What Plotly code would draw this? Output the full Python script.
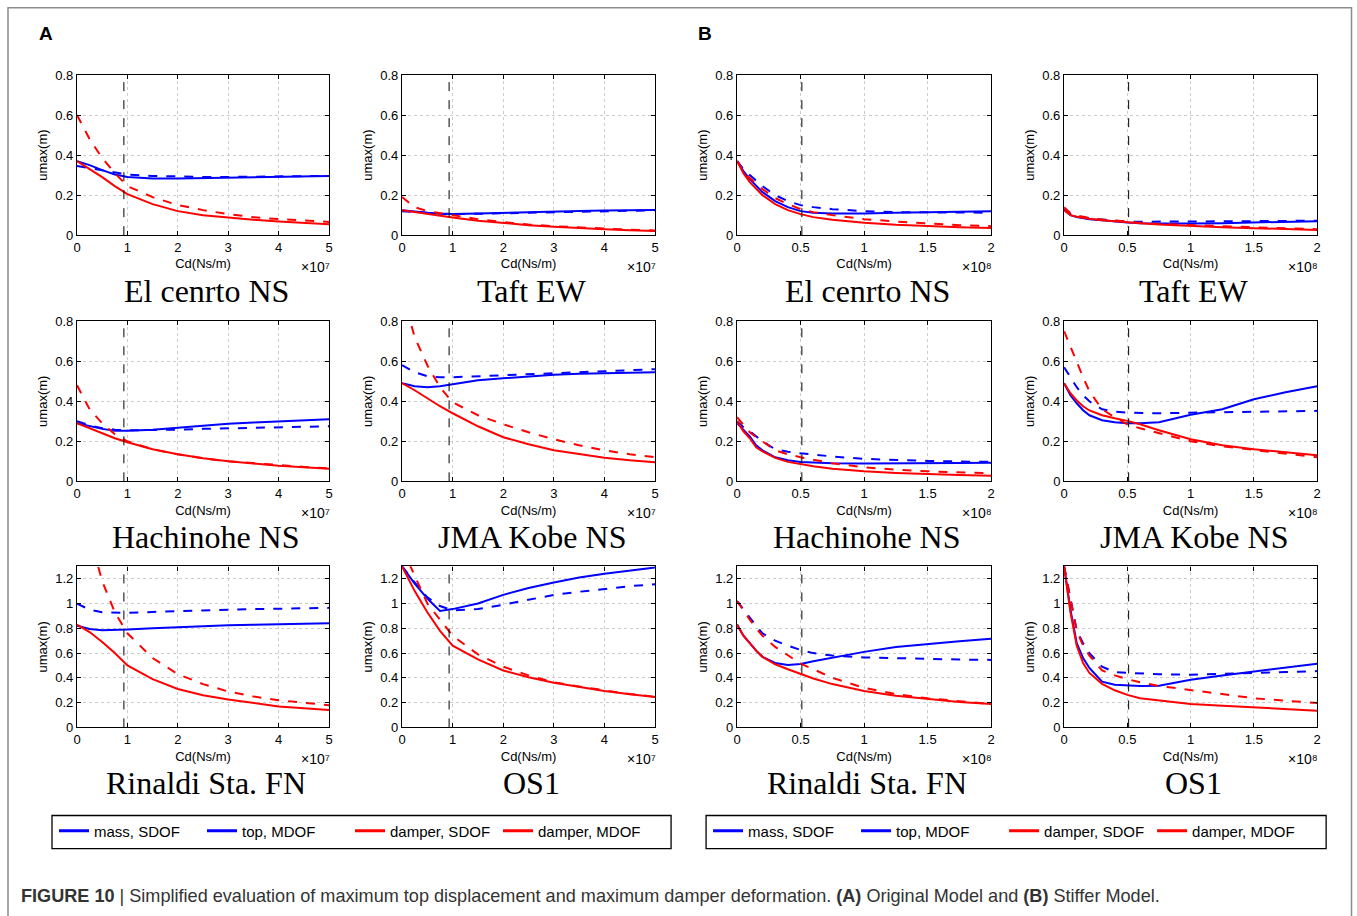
import plotly.graph_objects as go

W, H = 1357, 916

# ---------------- data ----------------
# Cd grids (A: x10^7 Ns/m, B: x10^8 Ns/m)
xa = [0, 0.25, 0.5, 0.75, 1, 1.5, 2, 2.5, 3, 3.5, 4, 4.5, 5]
xb = [0, 0.05, 0.1, 0.15, 0.2, 0.3, 0.4, 0.5, 0.6, 0.75, 1, 1.25, 1.5, 1.75, 2]

cd_opt_a = 0.93
cd_opt_b = 0.51

titles = ["El cenrto NS", "Taft EW", "Hachinohe NS", "JMA Kobe NS", "Rinaldi Sta. FN", "OS1"]
series_names = ["mass, SDOF", "top, MDOF", "damper, SDOF", "damper, MDOF"]
series_colors = ["#0000ff", "#0000ff", "#ff0000", "#ff0000"]
series_dash = ["dash", "solid", "dash", "solid"]

# ---- panel A (original model) ----
a_elcentro_mass_sdof = [0.345, 0.335, 0.322, 0.312, 0.303, 0.296, 0.292, 0.291, 0.291, 0.292, 0.293, 0.294, 0.296]
a_elcentro_top_mdof = [0.37, 0.35, 0.325, 0.303, 0.29, 0.283, 0.283, 0.285, 0.287, 0.289, 0.291, 0.293, 0.295]
a_elcentro_damper_sdof = [0.60, 0.48, 0.385, 0.31, 0.245, 0.19, 0.15, 0.125, 0.105, 0.09, 0.08, 0.072, 0.066]
a_elcentro_damper_mdof = [0.37, 0.33, 0.29, 0.245, 0.205, 0.155, 0.12, 0.1, 0.088, 0.077, 0.068, 0.061, 0.055]

a_taft_mass_sdof = [0.12, 0.115, 0.11, 0.107, 0.105, 0.106, 0.109, 0.112, 0.115, 0.118, 0.12, 0.122, 0.124]
a_taft_top_mdof = [0.125, 0.118, 0.112, 0.108, 0.106, 0.108, 0.112, 0.116, 0.119, 0.121, 0.123, 0.125, 0.126]
a_taft_damper_sdof = [0.19, 0.14, 0.12, 0.11, 0.1, 0.08, 0.065, 0.053, 0.045, 0.038, 0.032, 0.027, 0.023]
a_taft_damper_mdof = [0.125, 0.115, 0.105, 0.095, 0.088, 0.072, 0.06, 0.05, 0.042, 0.035, 0.03, 0.025, 0.021]

a_hachinohe_mass_sdof = [0.30, 0.28, 0.265, 0.258, 0.255, 0.255, 0.258, 0.262, 0.265, 0.268, 0.27, 0.273, 0.275]
a_hachinohe_top_mdof = [0.29, 0.275, 0.262, 0.253, 0.252, 0.258, 0.268, 0.278, 0.287, 0.294, 0.3, 0.305, 0.31]
a_hachinohe_damper_sdof = [0.48, 0.36, 0.29, 0.235, 0.2, 0.16, 0.135, 0.115, 0.1, 0.09, 0.08, 0.072, 0.065]
a_hachinohe_damper_mdof = [0.29, 0.265, 0.24, 0.215, 0.195, 0.16, 0.135, 0.115, 0.1, 0.088, 0.078, 0.07, 0.063]

a_kobe_mass_sdof = [0.58, 0.545, 0.525, 0.52, 0.52, 0.525, 0.53, 0.535, 0.54, 0.545, 0.55, 0.555, 0.56]
a_kobe_top_mdof = [0.49, 0.475, 0.47, 0.475, 0.485, 0.505, 0.515, 0.525, 0.532, 0.537, 0.54, 0.543, 0.545]
a_kobe_damper_sdof = [0.95, 0.72, 0.58, 0.47, 0.395, 0.33, 0.285, 0.245, 0.21, 0.18, 0.155, 0.135, 0.12]
a_kobe_damper_mdof = [0.49, 0.455, 0.415, 0.375, 0.34, 0.275, 0.22, 0.185, 0.155, 0.135, 0.118, 0.105, 0.095]

a_rinaldi_mass_sdof = [1.0, 0.95, 0.93, 0.925, 0.925, 0.932, 0.94, 0.945, 0.95, 0.955, 0.96, 0.963, 0.965]
a_rinaldi_top_mdof = [0.82, 0.795, 0.785, 0.787, 0.79, 0.8, 0.81, 0.818, 0.825, 0.828, 0.832, 0.836, 0.84]
a_rinaldi_damper_sdof = [2.0, 1.55, 1.18, 0.93, 0.76, 0.56, 0.43, 0.35, 0.29, 0.25, 0.22, 0.2, 0.18]
a_rinaldi_damper_mdof = [0.83, 0.77, 0.69, 0.6, 0.5, 0.39, 0.31, 0.26, 0.225, 0.195, 0.17, 0.155, 0.14]

a_os1_mass_sdof = [1.3, 1.17, 1.05, 0.98, 0.945, 0.955, 0.99, 1.03, 1.07, 1.095, 1.12, 1.14, 1.155]
a_os1_top_mdof = [1.3, 1.16, 1.04, 0.94, 0.955, 1.0, 1.07, 1.125, 1.17, 1.21, 1.24, 1.265, 1.29]
a_os1_damper_sdof = [1.45, 1.22, 1.0, 0.87, 0.74, 0.59, 0.49, 0.42, 0.365, 0.33, 0.3, 0.27, 0.247]
a_os1_damper_mdof = [1.3, 1.1, 0.93, 0.78, 0.66, 0.55, 0.46, 0.405, 0.36, 0.325, 0.295, 0.268, 0.245]

# ---- panel B (stiffer model) ----
b_elcentro_mass_sdof = [0.37, 0.33, 0.3, 0.27, 0.245, 0.2, 0.17, 0.15, 0.14, 0.13, 0.12, 0.115, 0.113, 0.112, 0.112]
b_elcentro_top_mdof = [0.37, 0.32, 0.28, 0.245, 0.215, 0.17, 0.14, 0.12, 0.112, 0.108, 0.108, 0.112, 0.115, 0.118, 0.12]
b_elcentro_damper_sdof = [0.37, 0.32, 0.285, 0.255, 0.23, 0.185, 0.155, 0.13, 0.115, 0.1, 0.08, 0.068, 0.058, 0.05, 0.045]
b_elcentro_damper_mdof = [0.37, 0.31, 0.265, 0.23, 0.2, 0.155, 0.125, 0.105, 0.09, 0.077, 0.062, 0.052, 0.045, 0.04, 0.036]

b_taft_mass_sdof = [0.13, 0.105, 0.095, 0.088, 0.084, 0.078, 0.072, 0.067, 0.067, 0.067, 0.068, 0.069, 0.07, 0.071, 0.072]
b_taft_top_mdof = [0.125, 0.1, 0.09, 0.084, 0.08, 0.074, 0.068, 0.063, 0.06, 0.058, 0.058, 0.06, 0.063, 0.066, 0.07]
b_taft_damper_sdof = [0.14, 0.11, 0.098, 0.09, 0.085, 0.078, 0.072, 0.067, 0.062, 0.056, 0.05, 0.044, 0.04, 0.034, 0.03]
b_taft_damper_mdof = [0.125, 0.1, 0.092, 0.086, 0.082, 0.075, 0.069, 0.064, 0.059, 0.053, 0.045, 0.04, 0.035, 0.03, 0.026]

b_hachinohe_mass_sdof = [0.3, 0.27, 0.25, 0.225, 0.2, 0.16, 0.148, 0.14, 0.133, 0.124, 0.112, 0.106, 0.102, 0.099, 0.097]
b_hachinohe_top_mdof = [0.29, 0.26, 0.225, 0.18, 0.155, 0.12, 0.105, 0.097, 0.093, 0.09, 0.089, 0.089, 0.09, 0.091, 0.093]
b_hachinohe_damper_sdof = [0.32, 0.28, 0.245, 0.22, 0.2, 0.155, 0.135, 0.12, 0.108, 0.09, 0.07, 0.058, 0.05, 0.044, 0.04]
b_hachinohe_damper_mdof = [0.3, 0.25, 0.215, 0.17, 0.15, 0.117, 0.097, 0.085, 0.075, 0.063, 0.05, 0.042, 0.035, 0.031, 0.028]

b_kobe_mass_sdof = [0.57, 0.52, 0.47, 0.43, 0.4, 0.36, 0.348, 0.343, 0.341, 0.34, 0.343, 0.346, 0.348, 0.35, 0.352]
b_kobe_top_mdof = [0.49, 0.43, 0.39, 0.355, 0.33, 0.305, 0.295, 0.29, 0.29, 0.295, 0.333, 0.36, 0.41, 0.445, 0.475]
b_kobe_damper_sdof = [0.75, 0.67, 0.6, 0.52, 0.45, 0.36, 0.32, 0.285, 0.265, 0.24, 0.2, 0.175, 0.157, 0.137, 0.12]
b_kobe_damper_mdof = [0.49, 0.44, 0.404, 0.375, 0.354, 0.33, 0.315, 0.302, 0.285, 0.255, 0.21, 0.18, 0.16, 0.145, 0.13]

b_rinaldi_mass_sdof = [1.02, 0.95, 0.88, 0.82, 0.76, 0.7, 0.66, 0.625, 0.6, 0.58, 0.565, 0.558, 0.552, 0.548, 0.545]
b_rinaldi_top_mdof = [0.83, 0.74, 0.68, 0.62, 0.57, 0.52, 0.505, 0.512, 0.535, 0.565, 0.61, 0.65, 0.675, 0.695, 0.715]
b_rinaldi_damper_sdof = [1.02, 0.94, 0.87, 0.8, 0.74, 0.65, 0.58, 0.515, 0.47, 0.4, 0.32, 0.27, 0.235, 0.21, 0.19]
b_rinaldi_damper_mdof = [0.83, 0.74, 0.68, 0.62, 0.57, 0.51, 0.47, 0.43, 0.395, 0.35, 0.295, 0.255, 0.23, 0.205, 0.19]

b_os1_mass_sdof = [1.3, 1.05, 0.78, 0.68, 0.6, 0.49, 0.447, 0.44, 0.435, 0.43, 0.425, 0.43, 0.44, 0.447, 0.455]
b_os1_top_mdof = [1.3, 0.95, 0.68, 0.56, 0.48, 0.37, 0.345, 0.338, 0.334, 0.336, 0.385, 0.42, 0.45, 0.48, 0.515]
b_os1_damper_sdof = [1.3, 1.05, 0.78, 0.66, 0.58, 0.46, 0.42, 0.39, 0.365, 0.335, 0.3, 0.265, 0.236, 0.215, 0.198]
b_os1_damper_mdof = [1.3, 0.93, 0.66, 0.52, 0.44, 0.352, 0.3, 0.263, 0.235, 0.218, 0.19, 0.175, 0.163, 0.148, 0.135]

panel_a = [
    [a_elcentro_mass_sdof, a_elcentro_top_mdof, a_elcentro_damper_sdof, a_elcentro_damper_mdof],
    [a_taft_mass_sdof, a_taft_top_mdof, a_taft_damper_sdof, a_taft_damper_mdof],
    [a_hachinohe_mass_sdof, a_hachinohe_top_mdof, a_hachinohe_damper_sdof, a_hachinohe_damper_mdof],
    [a_kobe_mass_sdof, a_kobe_top_mdof, a_kobe_damper_sdof, a_kobe_damper_mdof],
    [a_rinaldi_mass_sdof, a_rinaldi_top_mdof, a_rinaldi_damper_sdof, a_rinaldi_damper_mdof],
    [a_os1_mass_sdof, a_os1_top_mdof, a_os1_damper_sdof, a_os1_damper_mdof],
]
panel_b = [
    [b_elcentro_mass_sdof, b_elcentro_top_mdof, b_elcentro_damper_sdof, b_elcentro_damper_mdof],
    [b_taft_mass_sdof, b_taft_top_mdof, b_taft_damper_sdof, b_taft_damper_mdof],
    [b_hachinohe_mass_sdof, b_hachinohe_top_mdof, b_hachinohe_damper_sdof, b_hachinohe_damper_mdof],
    [b_kobe_mass_sdof, b_kobe_top_mdof, b_kobe_damper_sdof, b_kobe_damper_mdof],
    [b_rinaldi_mass_sdof, b_rinaldi_top_mdof, b_rinaldi_damper_sdof, b_rinaldi_damper_mdof],
    [b_os1_mass_sdof, b_os1_top_mdof, b_os1_damper_sdof, b_os1_damper_mdof],
]

# ---------------- layout helpers ----------------
SANS = "Liberation Sans, Arial, sans-serif"
SERIF = "Liberation Serif, Times New Roman, serif"

# target positions (in pixels of the 1357x916 picture)
col_px = {("A", 0): (77, 329), ("A", 1): (402, 655), ("B", 0): (737, 991), ("B", 1): (1064, 1317)}
row_px = [(75, 235), (321, 481), (566, 727)]
legend_box_px = {"legend": (52, 671), "legend2": (706, 1326)}
legend_rows_px = (815, 848)

# the captured picture shows the page slightly shrunk and offset; compensate
SX, OX = 0.994, 4.0
SY, OY = 0.983, 7.0


def fx(v):
    return (v - OX) / SX


def fy(v):
    return (v - OY) / SY


def px_x(v):
    return fx(v) / W


def px_y(v):
    return 1 - fy(v) / H


fig = go.Figure()
layout = {}
annotations = []
shapes = []

k = 0
for pname, pdata, xgrid, xmax, xdt, cdopt, expo in [
    ("A", panel_a, xa, 5, 1, cd_opt_a, "⁷"),
    ("B", panel_b, xb, 2, 0.5, cd_opt_b, "⁸"),
]:
    for i, series in enumerate(pdata):
        r, c = divmod(i, 2)
        k += 1
        xs = "" if k == 1 else str(k)
        x0, x1 = col_px[(pname, c)]
        y0, y1 = row_px[r]
        ymax = 1.3 if r == 2 else 0.8
        for s, ys in enumerate(series):
            fig.add_trace(go.Scatter(
                x=xgrid, y=ys, mode="lines", showlegend=False,
                name=series_names[s],
                line=dict(color=series_colors[s], width=2, dash=series_dash[s]),
                xaxis="x" + xs, yaxis="y" + xs, cliponaxis=True,
            ))
        axis_common = dict(
            showline=True, linecolor="black", linewidth=1.3, mirror="ticks",
            ticks="inside", ticklen=4, tickcolor="black", tickwidth=1,
            showgrid=True, gridcolor="#cccccc", griddash="dot", gridwidth=1,
            zeroline=False, tickfont=dict(family=SANS, size=13, color="black"),
        )
        layout["xaxis" + xs] = dict(
            axis_common, domain=[px_x(x0), px_x(x1)], range=[0, xmax], dtick=xdt, tick0=0,
            anchor="y" + xs,
            title=dict(text="Cd(Ns/m)", font=dict(family=SANS, size=13, color="black"), standoff=5),
        )
        layout["yaxis" + xs] = dict(
            axis_common, domain=[px_y(y1), px_y(y0)], range=[0, ymax], dtick=0.2, tick0=0,
            anchor="x" + xs,
            title=dict(text="umax(m)", font=dict(family=SANS, size=13, color="black"), standoff=4),
        )
        shapes.append(dict(
            type="line", xref="x" + xs, yref="y" + xs + " domain", x0=cdopt, x1=cdopt, y0=0, y1=1,
            line=dict(color="black", width=1, dash="dash"), layer="above",
        ))
        annotations.append(dict(
            text="×10" + expo, xref="paper", yref="paper",
            x=px_x(x1 + 3), y=px_y(y1 + 32), xanchor="right", yanchor="middle",
            showarrow=False, font=dict(family=SANS, size=14, color="black"),
        ))
        annotations.append(dict(
            text=titles[i], xref="paper", yref="paper",
            x=px_x((x0 + x1) / 2 + 3), y=px_y(y1 + 56), xanchor="center", yanchor="middle",
            showarrow=False, font=dict(family=SERIF, size=32, color="black"),
        ))

# panel letters
annotations.append(dict(text="<b>A</b>", xref="paper", yref="paper", x=px_x(46), y=px_y(33),
                        xanchor="center", yanchor="middle", showarrow=False,
                        font=dict(family=SANS, size=19, color="black")))
annotations.append(dict(text="<b>B</b>", xref="paper", yref="paper", x=px_x(705), y=px_y(33),
                        xanchor="center", yanchor="middle", showarrow=False,
                        font=dict(family=SANS, size=19, color="black")))

# caption
annotations.append(dict(
    text="<b>FIGURE 10</b> | Simplified evaluation of maximum top displacement and maximum damper deformation. "
         "<b>(A)</b> Original Model and <b>(B)</b> Stiffer Model.",
    xref="paper", yref="paper", x=px_x(19), y=px_y(895), xanchor="left", yanchor="middle",
    showarrow=False, font=dict(family=SANS, size=18.1, color="#333333"),
))

# outer frame
shapes.append(dict(type="rect", xref="paper", yref="paper",
                   x0=px_x(8), x1=min(px_x(1353), 1355.5 / W), y0=0 - 0.02, y1=1 - 0.8 / H,
                   line=dict(color="#8c8c8c", width=1.5), layer="below"))

# legend frames
for lg, (lx0, lx1) in legend_box_px.items():
    shapes.append(dict(type="rect", xref="paper", yref="paper",
                       x0=px_x(lx0), x1=px_x(lx1), y0=px_y(legend_rows_px[1]), y1=px_y(legend_rows_px[0]),
                       line=dict(color="black", width=1.3), layer="above"))

# legend-only entries (solid samples, as in the reference legend)
for lg in ["legend", "legend2"]:
    for s in range(4):
        fig.add_trace(go.Scatter(
            x=[None], y=[None], mode="lines", name=series_names[s], legend=lg,
            line=dict(color=series_colors[s], width=3), showlegend=True,
        ))

legend_common = dict(
    orientation="h", xanchor="left", yanchor="top", borderwidth=0,
    bgcolor="rgba(0,0,0,0)", font=dict(family=SANS, size=15, color="black"),
    entrywidth=103, entrywidthmode="pixels", itemwidth=30,
)
for lg, (lx0, lx1) in legend_box_px.items():
    layout[lg] = dict(legend_common, x=px_x(lx0 + 2), y=px_y(legend_rows_px[0] - 1))

fig.update_layout(
    width=W, height=H, autosize=False,
    margin=dict(l=0, r=0, t=0, b=0),
    paper_bgcolor="white", plot_bgcolor="white",
    annotations=annotations, shapes=shapes,
    **layout,
)

fig.write_html(
    "out.html",
    config={"displayModeBar": False},
    post_script="document.body.style.margin='0';document.body.style.overflow='hidden';",
)
